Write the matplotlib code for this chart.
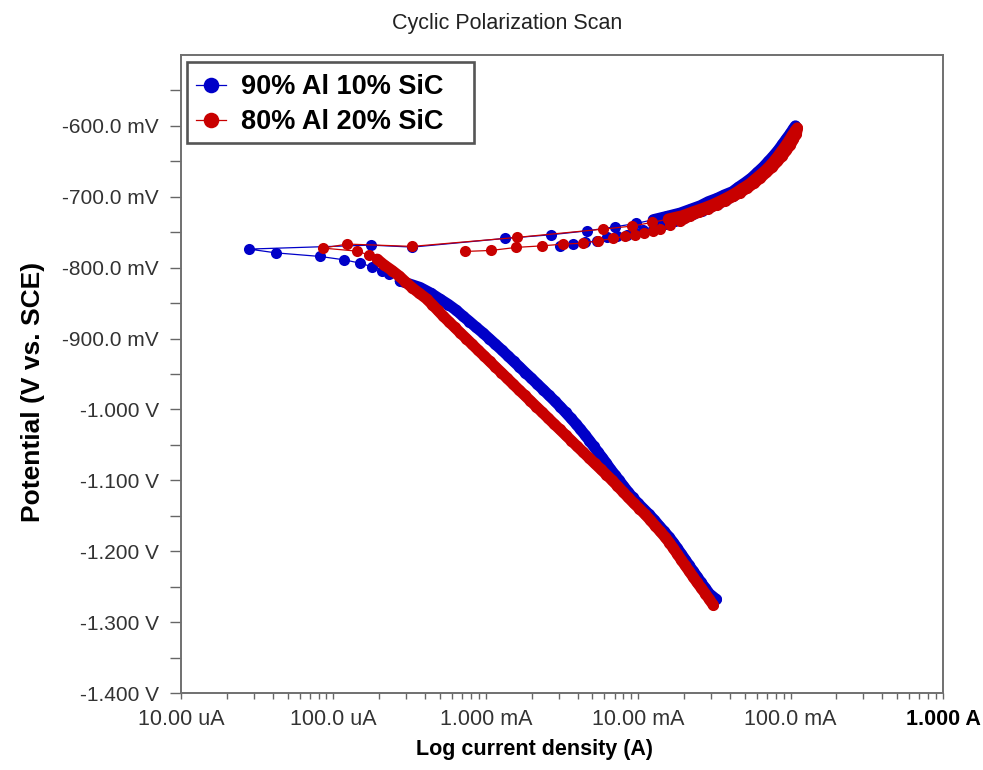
import numpy as np
import matplotlib
matplotlib.use("Agg")
import matplotlib.pyplot as plt
from matplotlib.ticker import FixedLocator, FixedFormatter, NullFormatter
from matplotlib.patches import Rectangle

# ---------------- data (potential in mV vs SCE, log10 of current in A) ----------------
series_names = ["90% Al 10% SiC", "80% Al 20% SiC"]
series_colors = ["#0000C8", "#C80000"]

# 90% Al 10% SiC : cathodic forward scan, anodic forward scan, reverse scan
blue_E = [
    -1268, -1260, -1252, -1244, -1236, -1228, -1220, -1212, -1204, -1196, -1188, -1180,
    -1172, -1164, -1156, -1148, -1140, -1132, -1124, -1116, -1108, -1100, -1092, -1084,
    -1076, -1068, -1060, -1052, -1044, -1036, -1028, -1020, -1012, -1004, -996, -988,
    -980, -972, -964, -956, -948, -940, -932, -924, -916, -908, -900, -892, -884, -876,
    -868, -860, -852, -844, -836, -828, -818.7, -809.2, -804.0, -798.9, -793.6, -789.0,
    -784.2, -779.1, -773.8,
    -768.2, -771.0, -758.7, -753.6, -748.0, -742.3, -737.5, -732.4, -727.6, -723.0,
    -717.3, -712.7, -707.0, -702.2, -697.5, -692.9, -686.7, -679.9, -673.5, -665.7,
    -657.9, -650.2, -642.4, -633.9, -626.2, -618.4, -610.6, -604.2, -600.0,
    -608.5, -616.2, -624.7, -632.5, -640.3, -648.8, -656.5, -664.3, -672.1, -679.2,
    -685.5, -691.9, -698.2, -703.9, -709.5, -714.5, -719.4, -724.4, -729.3, -733.6,
    -737.8, -742.0, -746.3, -750.5, -753.6, -755.0, -757.3, -762.1, -764.4, -766.8,
    -769.2,
]
blue_logI = [
    -1.487, -1.533, -1.560, -1.588, -1.613, -1.640, -1.666, -1.691, -1.717, -1.743, -1.769, -1.798,
    -1.830, -1.863, -1.894, -1.929, -1.966, -2.003, -2.037, -2.068, -2.097, -2.125, -2.154, -2.183,
    -2.209, -2.236, -2.265, -2.292, -2.320, -2.349, -2.379, -2.410, -2.443, -2.477, -2.512, -2.548,
    -2.586, -2.624, -2.663, -2.701, -2.741, -2.779, -2.818, -2.857, -2.896, -2.937, -2.978, -3.019,
    -3.064, -3.107, -3.152, -3.194, -3.245, -3.303, -3.361, -3.431, -3.562, -3.632, -3.680, -3.744,
    -3.825, -3.928, -4.087, -4.378, -4.554,
    -3.754, -3.481, -2.873, -2.573, -2.334, -2.150, -2.012, -1.901, -1.809, -1.724,
    -1.651, -1.592, -1.540, -1.481, -1.435, -1.382, -1.343, -1.297, -1.257, -1.218,
    -1.179, -1.146, -1.113, -1.080, -1.054, -1.028, -1.001, -0.982, -0.968,
    -0.975, -0.995, -1.021, -1.047, -1.074, -1.106, -1.139, -1.172, -1.211, -1.251,
    -1.290, -1.330, -1.376, -1.422, -1.474, -1.527, -1.579, -1.638, -1.697, -1.756,
    -1.822, -1.894, -1.967, -2.019, -2.072, -2.137, -2.203, -2.269, -2.347, -2.426,
    -2.512,
]

# 80% Al 20% SiC
red_E = [
    -1276, -1268, -1260, -1252, -1244, -1236, -1228, -1220, -1212, -1204, -1196, -1188,
    -1180, -1172, -1164, -1156, -1148, -1140, -1132, -1124, -1116, -1108, -1100, -1092,
    -1084, -1076, -1068, -1060, -1052, -1044, -1036, -1028, -1020, -1012, -1004, -996,
    -988, -980, -972, -964, -956, -948, -940, -932, -924, -916, -908, -900, -892, -884,
    -876, -868, -860, -852, -844, -836, -828, -820, -812, -804, -796, -788,
    -782.3, -776.7, -772.4, -766.7, -770.0, -757.3,
    -745.6, -741.3, -736.1, -731.4, -726.8, -721.1, -716.3, -711.2, -706.0, -700.3,
    -694.7, -688.3, -682.0, -674.9, -667.8, -660.1, -652.3, -643.8, -636.0, -628.3,
    -619.8, -612.7, -606.4, -602.8,
    -611.3, -619.1, -626.8, -634.6, -642.4, -650.2, -657.9, -665.7, -673.5, -680.6,
    -687.6, -694.0, -699.6, -705.3, -710.9, -716.6, -721.6, -726.5, -734.3, -740.0,
    -745.6, -748.8, -751.7, -753.6, -755.9, -758.7, -762.1, -765.4, -766.8, -769.2,
    -771.4, -775.7, -777.1,
]
red_logI = [
    -1.507, -1.533, -1.559, -1.586, -1.614, -1.640, -1.666, -1.692, -1.718, -1.743, -1.769, -1.795,
    -1.824, -1.856, -1.889, -1.921, -1.955, -1.992, -2.030, -2.066, -2.101, -2.136, -2.171, -2.209,
    -2.247, -2.286, -2.324, -2.362, -2.401, -2.439, -2.477, -2.515, -2.554, -2.592, -2.630, -2.669,
    -2.707, -2.745, -2.784, -2.822, -2.860, -2.898, -2.937, -2.975, -3.013, -3.052, -3.090, -3.128,
    -3.167, -3.205, -3.243, -3.281, -3.316, -3.352, -3.388, -3.437, -3.485, -3.527, -3.567, -3.615,
    -3.668, -3.713,
    -3.766, -3.844, -4.068, -3.910, -3.483, -2.794,
    -2.229, -2.039, -1.907, -1.802, -1.710, -1.638, -1.573, -1.513, -1.461, -1.408,
    -1.362, -1.316, -1.270, -1.231, -1.192, -1.152, -1.119, -1.087, -1.060, -1.034,
    -1.008, -0.988, -0.968, -0.955,
    -0.962, -0.982, -1.001, -1.028, -1.054, -1.087, -1.119, -1.159, -1.198, -1.238,
    -1.284, -1.330, -1.376, -1.428, -1.481, -1.540, -1.599, -1.658, -1.724, -1.789,
    -1.855, -1.903, -1.960, -2.019, -2.085, -2.164, -2.262, -2.360, -2.492, -2.630,
    -2.800, -2.965, -3.135,
]

x_tick_values = [1e-5, 1e-4, 1e-3, 1e-2, 1e-1, 1.0]
x_tick_labels = ["10.00 uA", "100.0 uA", "1.000 mA", "10.00 mA", "100.0 mA", "1.000 A"]
y_tick_values = [-1.4, -1.3, -1.2, -1.1, -1.0, -0.9, -0.8, -0.7, -0.6]
y_tick_labels = ["-1.400 V", "-1.300 V", "-1.200 V", "-1.100 V", "-1.000 V",
                 "-900.0 mV", "-800.0 mV", "-700.0 mV", "-600.0 mV"]

# ---------------- figure ----------------
plt.rcParams["font.family"] = ["Liberation Sans", "DejaVu Sans"]
W, H = 983, 770
fig = plt.figure(figsize=(W / 100, H / 100), dpi=100)
ax = fig.add_axes([181 / W, 77 / H, 762 / W, 638 / H])

MS = 8.0
for k, (E, L, c, name, cath_lim) in enumerate([
        (blue_E, blue_logI, series_colors[0], series_names[0], -818),
        (red_E, red_logI, series_colors[1], series_names[1], -788)]):
    E = np.array(E) / 1000.0
    I = 10 ** np.array(L)
    z = 2 + k
    # densely sampled parts of the scan merge into a solid band
    dense = (E * 1000 <= cath_lim) | (E * 1000 >= -735)
    ax.plot(I, np.where(dense, E, np.nan), color=c, lw=MS, solid_capstyle="round",
            solid_joinstyle="round", zorder=z)
    ax.plot(I, E, color=c, lw=0.9, marker="o", markersize=MS, markeredgewidth=0,
            label=name, zorder=z)

ax.set_xscale("log")
ax.set_xlim(1e-5, 1.0)
ax.set_ylim(-1.4, -0.5)

ax.xaxis.set_major_locator(FixedLocator(x_tick_values))
ax.xaxis.set_major_formatter(FixedFormatter(x_tick_labels))
minor_x = [m * 10.0 ** d for d in range(-5, 0) for m in range(2, 10)]
ax.xaxis.set_minor_locator(FixedLocator(minor_x))
ax.xaxis.set_minor_formatter(NullFormatter())

ax.yaxis.set_major_locator(FixedLocator(y_tick_values))
ax.yaxis.set_major_formatter(FixedFormatter(y_tick_labels))
ax.yaxis.set_minor_locator(FixedLocator([-1.35, -1.25, -1.15, -1.05, -0.95, -0.85,
                                         -0.75, -0.65, -0.55]))

ax.tick_params(axis="x", which="both", direction="out", length=4, width=1,
               color="#666666", labelsize=15.5, labelcolor="#333333", pad=7.5)
ax.tick_params(axis="y", which="both", direction="out", length=8, width=1,
               color="#666666", labelsize=15, labelcolor="#333333", pad=8)
for lbl in ax.get_xticklabels():
    if lbl.get_text() == "1.000 A":
        lbl.set_fontweight("bold")
        lbl.set_color("black")

for s in ax.spines.values():
    s.set_color("#707070")
    s.set_linewidth(1.4)

ax.set_xlabel("Log current density (A)", fontsize=15.5, fontweight="bold")
ax.xaxis.set_label_coords((535 - 181) / 762, -(739 - 693) / 638)
ax.set_ylabel("Potential (V vs. SCE)", fontsize=19, fontweight="bold")
ax.yaxis.set_label_coords(-(181 - 45) / 762, (693 - 392) / 638)
fig.text(507 / W, 1 - 24 / H, "Cyclic Polarization Scan", ha="center", va="center",
         fontsize=15.5, color="#222222")

# legend box
ax.add_patch(Rectangle(((187 - 181) / 762, (693 - 143) / 638), (474 - 187) / 762, 81 / 638,
                       transform=ax.transAxes, facecolor="white", edgecolor="#555555",
                       linewidth=1.9, zorder=4, clip_on=False))
leg = ax.legend(loc="upper left", bbox_to_anchor=((196 - 181) / 762, (693 - 74) / 638),
                prop={"weight": "bold", "size": 19.5}, frameon=False,
                borderaxespad=0, borderpad=0, handlelength=1.1, handletextpad=0.55,
                labelspacing=0.35, markerscale=1.4)
leg.set_zorder(5)

fig.savefig("out.png", dpi=100, facecolor="white")
